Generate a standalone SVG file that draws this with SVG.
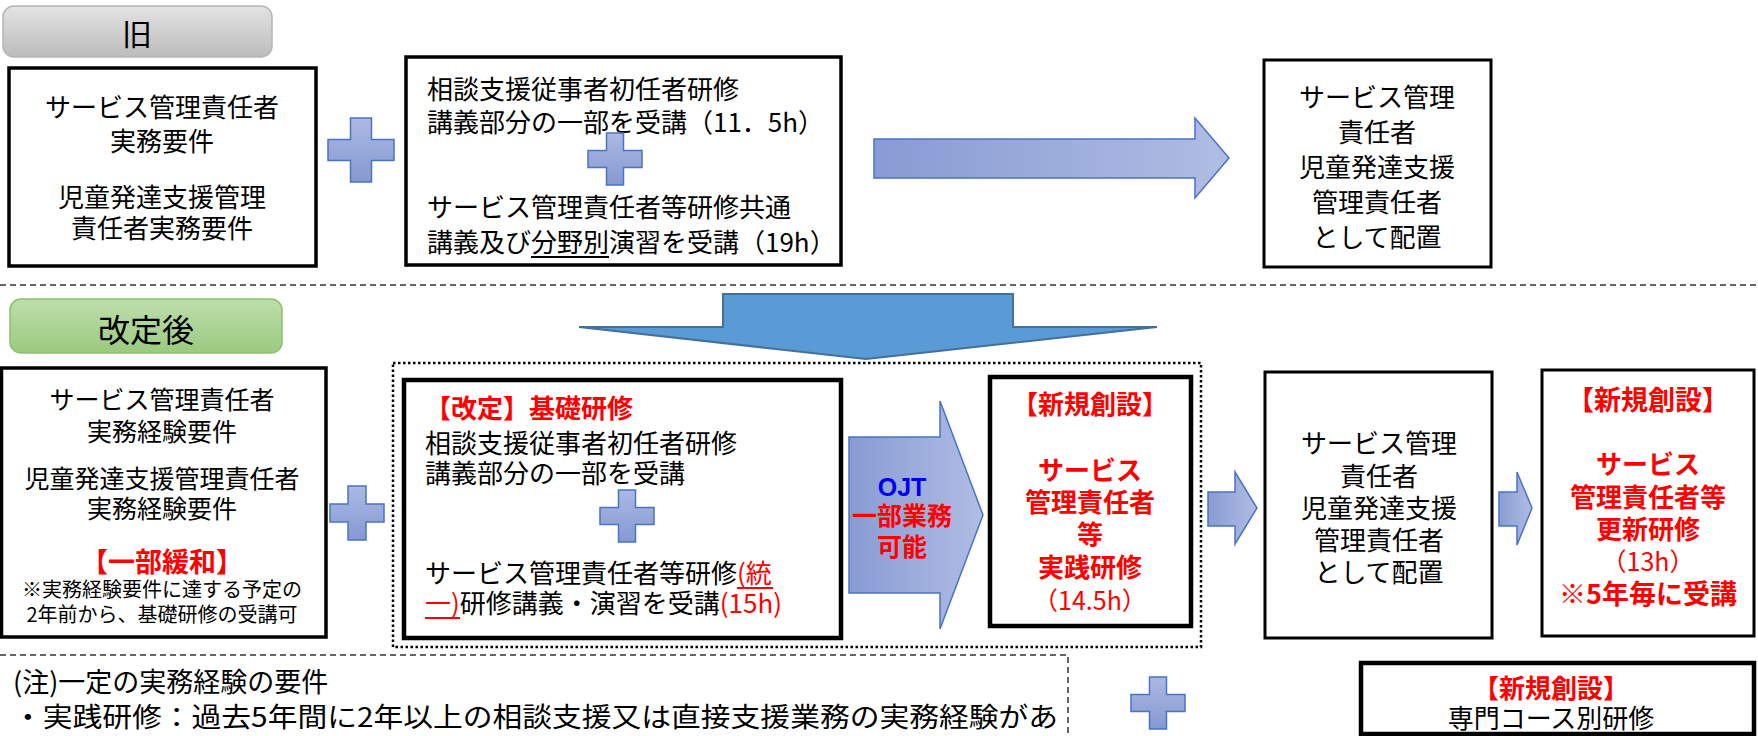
<svg xmlns="http://www.w3.org/2000/svg" width="1758" height="736" viewBox="0 0 1758 736">
<defs>
<linearGradient id="gArrow" x1="0" y1="0" x2="1" y2="0"><stop offset="0" stop-color="#889bd3"/><stop offset="1" stop-color="#b0bde3"/></linearGradient>
<linearGradient id="gPlus" x1="0" y1="0" x2="0" y2="1"><stop offset="0" stop-color="#abb9e3"/><stop offset="1" stop-color="#8599d2"/></linearGradient>
<linearGradient id="gGray" x1="0" y1="0" x2="0" y2="1"><stop offset="0" stop-color="#e3e3e3"/><stop offset="1" stop-color="#bcbcbc"/></linearGradient>
<linearGradient id="gGreen" x1="0" y1="0" x2="0" y2="1"><stop offset="0" stop-color="#bedead"/><stop offset="1" stop-color="#9bca80"/></linearGradient>
<style>
text{font-family:"Noto Sans CJK JP","Noto Sans CJK SC",sans-serif;fill:#000;font-size:26px}
.c{text-anchor:middle}
.r{fill:#ff0000}
.b{font-weight:bold}
.box{fill:#fff;stroke:#000;stroke-width:3.5}
.thick{stroke-width:4.5}
.thin{stroke-width:3}
.plus{fill:url(#gPlus);stroke:#4a73c4;stroke-width:1.5}
.arr{fill:url(#gArrow);stroke:#4a73c4;stroke-width:1.5}
.dash{fill:none;stroke:#333;stroke-width:1.5;stroke-dasharray:6 4}
.dot{fill:none;stroke:#000;stroke-width:2.5;stroke-dasharray:2.5 2.5}
.ul{stroke-width:2}
</style>
</defs>

<g id="separators">
<line class="dash" x1="0" y1="285" x2="1758" y2="285"/>
</g>

<g id="label-old">
<rect x="3" y="6" width="269" height="51" rx="11" fill="url(#gGray)" stroke="#b5b5b5" stroke-width="1.5"/>
<text class="c" x="137" y="45" style="font-size:30px">旧</text>
</g>

<g id="label-new">
<rect x="10" y="299" width="272" height="54" rx="11" fill="url(#gGreen)" stroke="#8dc06d" stroke-width="1.5"/>
<text class="c" x="146" y="342" style="font-size:32px">改定後</text>
</g>

<g id="old-requirements">
<rect class="box" x="9" y="68" width="307" height="198"/>
<text class="c" x="162" y="117">サービス管理責任者</text>
<text class="c" x="162" y="151">実務要件</text>
<text class="c" x="162" y="207">児童発達支援管理</text>
<text class="c" x="162" y="238">責任者実務要件</text>
</g>

<g id="old-training">
<rect class="box" x="406" y="57" width="435" height="208"/>
<text x="427" y="99">相談支援従事者初任者研修</text>
<text x="427" y="132">講義部分の一部を受講（11．5h）</text>
<text x="427" y="217">サービス管理責任者等研修共通</text>
<text x="427" y="252">講義及び分野別演習を受講（19h）</text>
<line x1="531" y1="257" x2="609" y2="257" stroke="#000" class="ul"/>
</g>

<g id="old-placement">
<rect class="box thin" x="1264" y="60" width="227" height="207"/>
<text class="c" x="1377" y="107">サービス管理</text>
<text class="c" x="1377" y="142">責任者</text>
<text class="c" x="1377" y="177">児童発達支援</text>
<text class="c" x="1377" y="212">管理責任者</text>
<text class="c" x="1377" y="247">として配置</text>
</g>

<g id="new-group">
<rect class="dot" x="393" y="363" width="808" height="284"/>
</g>

<g id="new-requirements">
<rect class="box" x="1.5" y="368" width="324.5" height="269"/>
<text class="c" x="162" y="409" style="font-size:25px">サービス管理責任者</text>
<text class="c" x="162" y="441" style="font-size:25px">実務経験要件</text>
<text class="c" x="162" y="488" style="font-size:25px">児童発達支援管理責任者</text>
<text class="c" x="162" y="518" style="font-size:25px">実務経験要件</text>
<text class="c r b" x="162" y="572" style="font-size:27px">【一部緩和】</text>
<text class="c" x="162" y="597" style="font-size:20px">※実務経験要件に達する予定の</text>
<text class="c" x="162" y="622" style="font-size:20px">2年前から、基礎研修の受講可</text>
</g>

<g id="basic-training">
<rect class="box thick" x="404" y="380" width="437" height="258"/>
<text class="r b" x="425" y="418">【改定】基礎研修</text>
<text x="425" y="453">相談支援従事者初任者研修</text>
<text x="425" y="483">講義部分の一部を受講</text>
<text x="425" y="583">サービス管理責任者等研修<tspan class="r">(統</tspan></text>
<text x="425" y="613"><tspan class="r">一)</tspan>研修講義・演習を受講<tspan class="r">(15h)</tspan></text>
<line x1="737" y1="588" x2="773" y2="588" stroke="#ff0000" class="ul"/>
<line x1="425" y1="618" x2="460" y2="618" stroke="#ff0000" class="ul"/>
</g>

<g id="practice-training">
<rect class="box thick" x="990" y="377" width="201" height="249"/>
<text class="c r b" x="1090" y="414">【新規創設】</text>
<text class="c r b" x="1090" y="480">サービス</text>
<text class="c r b" x="1090" y="512">管理責任者</text>
<text class="c r b" x="1090" y="544">等</text>
<text class="c r b" x="1090" y="577">実践研修</text>
<text class="c r" x="1090" y="610" style="font-size:25px">（14.5h）</text>
</g>

<g id="new-placement">
<rect class="box thin" x="1265" y="372" width="227" height="266"/>
<text class="c" x="1379" y="453">サービス管理</text>
<text class="c" x="1379" y="486">責任者</text>
<text class="c" x="1379" y="518">児童発達支援</text>
<text class="c" x="1379" y="550">管理責任者</text>
<text class="c" x="1379" y="582">として配置</text>
</g>

<g id="renewal-training">
<rect class="box thin" x="1542" y="370" width="212" height="266"/>
<text class="c r b" x="1648" y="410" style="font-size:27px">【新規創設】</text>
<text class="c r b" x="1648" y="474">サービス</text>
<text class="c r b" x="1648" y="507">管理責任者等</text>
<text class="c r b" x="1648" y="539">更新研修</text>
<text class="c r" x="1648" y="571" style="font-size:25px">（13h）</text>
<text class="c r b" x="1648" y="604" style="font-size:27px">※5年毎に受講</text>
</g>

<g id="notes">
<path class="dash" d="M0,655 H1068 V736"/>
<text x="13" y="692" style="font-size:27px">(注)一定の実務経験の要件</text>
<text x="13" y="727" style="font-size:27px" textLength="1045" lengthAdjust="spacingAndGlyphs">・実践研修：過去5年間に2年以上の相談支援又は直接支援業務の実務経験があ</text>
</g>

<g id="specialist-training">
<rect class="box thick" x="1361" y="663" width="393" height="71"/>
<text class="c r b" x="1551" y="698">【新規創設】</text>
<text class="c" x="1551" y="728">専門コース別研修</text>
</g>

<g id="plus-signs">
<path class="plus" d="M350.5,118 H371.5 V139.5 H394 V160.5 H371.5 V182 H350.5 V160.5 H328 V139.5 H350.5 Z"/>
<path class="plus" d="M606.5,133 H623.5 V150.5 H642 V167.5 H623.5 V185 H606.5 V167.5 H588 V150.5 H606.5 Z"/>
<path class="plus" d="M348,486 H366 V504 H384 V522 H366 V540 H348 V522 H330 V504 H348 Z"/>
<path class="plus" d="M618.5,490 H635.5 V507.5 H654 V524.5 H635.5 V542 H618.5 V524.5 H600 V507.5 H618.5 Z"/>
<path class="plus" d="M1149.5,677 H1166.5 V694.5 H1185 V711.5 H1166.5 V729 H1149.5 V711.5 H1131 V694.5 H1149.5 Z"/>
</g>

<g id="connectors">
<path class="arr" d="M874,139 H1195 V118 L1229,158 L1195,198 V178 H874 Z"/>
<path d="M723,294 H1013 V327 H1157 L866,359 L579,327 H723 Z" fill="#5b9bd5" stroke="#41719c" stroke-width="2"/>
<path class="arr" d="M849,437 H940 V401 L983,515 L940,629 V593 H849 Z"/>
<text class="c b" x="902" y="496" style="font-size:25px;font-family:'Liberation Sans',Arial,sans-serif;fill:#0000ee">OJT</text>
<text class="c r b" x="902" y="525" style="font-size:25px">一部業務</text>
<text class="c r b" x="902" y="556" style="font-size:25px">可能</text>
<path class="arr" d="M1208,492 H1235 V472 L1257,508 L1235,544 V526 H1208 Z"/>
<path class="arr" d="M1499,492 H1517 V472 L1532,508 L1517,545 V526 H1499 Z"/>
</g>
</svg>
